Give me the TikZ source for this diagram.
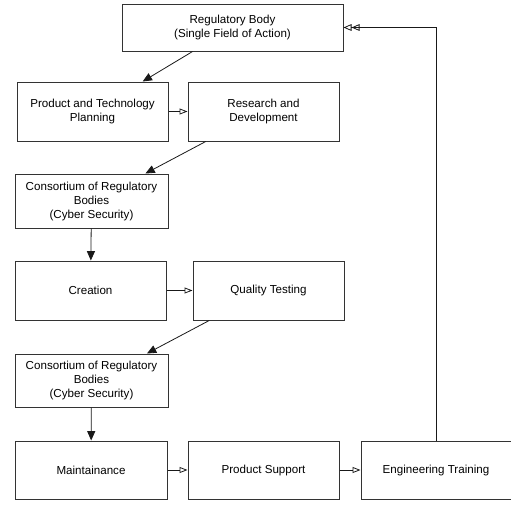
\documentclass[tikz,border=0pt]{standalone}
\usepackage{fontspec}
\setmainfont{Liberation Sans}
\usetikzlibrary{arrows.meta,calc}
\begin{document}
\begin{tikzpicture}[x=0.75pt,y=-0.75pt,
  box/.style={draw=black!80,line width=0.75pt,rectangle,align=center,inner sep=0pt,font=\fontsize{8.7pt}{10.5pt}\selectfont},
  fl/.style={draw=black!90,line width=0.6pt,-{Triangle[length=7pt,width=6pt]}},
  op/.style={draw=black!90,line width=0.6pt,-{Triangle[open,length=6pt,width=4.5pt]}},
  dop/.style={draw=black!90,line width=0.6pt,-{Triangle[open,length=6pt,width=5pt]Triangle[open,length=6pt,width=5pt]}}]
\useasboundingbox (0,0) rectangle (511,504);
\node[box,minimum width=165.75pt,minimum height=35.25pt] (rb) at (232.5,27.5) {Regulatory Body\\(Single Field of Action)};
\node[box,minimum width=113.25pt,minimum height=44.25pt] (ptp) at (92.5,111.5) {Product and Technology\\Planning};
\node[box,minimum width=113.25pt,minimum height=44.25pt] (rd) at (263.5,111.5) {Research and\\Development};
\node[box,minimum width=114.75pt,minimum height=40.5pt] (c1) at (91.5,201) {Consortium of Regulatory\\Bodies\\(Cyber Security)};
\node[box,minimum width=113.25pt,minimum height=44.25pt] (cr) at (90.5,290.5) {Creation};
\node[box,minimum width=113.25pt,minimum height=44.25pt] (qt) at (268.5,290.5) {Quality Testing};
\node[box,minimum width=114.75pt,minimum height=39.75pt] (c2) at (91.5,380.5) {Consortium of Regulatory\\Bodies\\(Cyber Security)};
\node[box,minimum width=114pt,minimum height=43.5pt] (mt) at (91,470) {Maintainance};
\node[box,minimum width=113.25pt,minimum height=43.5pt] (ps) at (263.5,470) {Product Support};
\node[box,minimum width=112.5pt,minimum height=43.5pt] (et) at (436,470) {Engineering Training};
\draw[fl] ($(rb.south west)!0.32!(rb.south east)$) -- ($(ptp.north west)!0.83!(ptp.north east)$);
\draw[op] (ptp) -- (rd);
\draw[fl] ($(rd.south west)!0.12!(rd.south east)$) -- ($(c1.north west)!0.85!(c1.north east)$);
\draw[fl] (c1) -- (cr);
\draw[op] (cr) -- (qt);
\draw[fl] ($(qt.south west)!0.11!(qt.south east)$) -- ($(c2.north west)!0.86!(c2.north east)$);
\draw[fl] (c2) -- (mt);
\draw[op] (mt) -- (ps);
\draw[op] (ps) -- (et);
\draw[dop] (et.north) |- (rb.east);
\end{tikzpicture}
\end{document}
